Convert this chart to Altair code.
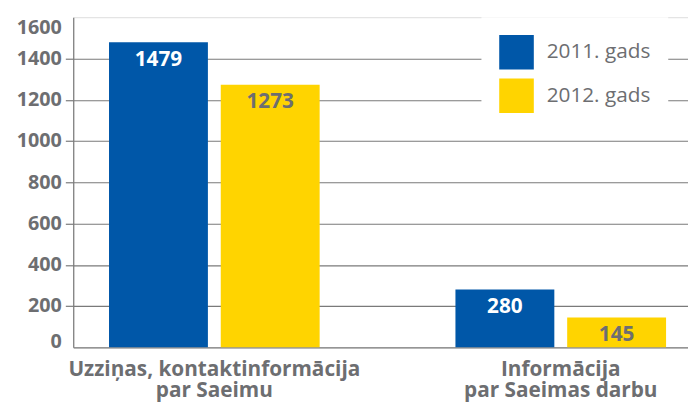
import altair as alt
import pandas as pd

categories = ["Uzziņas, kontaktinformācija\npar Saeimu", "Informācija\npar Saeimas darbu"]
years = ["2011. gads", "2012. gads"]
values_2011 = [1479, 280]
values_2012 = [1273, 145]
y_ticks = [0, 200, 400, 600, 800, 1000, 1200, 1400, 1600]

rows = []
for c, v1, v2 in zip(categories, values_2011, values_2012):
    rows.append({"category": c, "year": years[0], "value": v1})
    rows.append({"category": c, "year": years[1], "value": v2})
df = pd.DataFrame(rows)

BLUE = "#0057A8"
YELLOW = "#FFD400"
GRAY = "#6D6E71"
LINE = "#7A7A7A"
FONT = "Open Sans"

x_enc = alt.X(
    "category:N",
    sort=categories,
    title=None,
    scale=alt.Scale(paddingInner=0.392, paddingOuter=0.0833, align=0.62),
    axis=alt.Axis(
        labelExpr="split(datum.label, '\\n')",
        labelAngle=0,
        labelFont=FONT,
        labelFontSize=21,
        labelFontWeight="bold",
        labelColor=GRAY,
        labelLineHeight=22,
        labelPadding=11,
        ticks=False,
        domainColor=LINE,
        domainWidth=1.2,
        labelLimit=400,
    ),
)
xoff = alt.XOffset("year:N", sort=years, scale=alt.Scale(paddingInner=0.115, paddingOuter=0))
y_enc = alt.Y(
    "value:Q",
    title=None,
    scale=alt.Scale(domain=[0, 1600], nice=False),
    axis=alt.Axis(
        values=y_ticks,
        format="d",
        labelFont=FONT,
        labelFontSize=20,
        labelFontWeight="bold",
        labelColor=GRAY,
        labelPadding=4,
        labelBaseline={
            "condition": [
                {"test": "datum.value == 1600", "value": "top"},
                {"test": "datum.value == 0", "value": "alphabetic"},
            ],
            "value": "middle",
        },
        tickSize=8,
        tickColor=LINE,
        tickWidth=1.2,
        tickOpacity={"condition": {"test": "datum.value == 1600 || datum.value == 0", "value": 0}, "value": 1},
        domainColor=LINE,
        domainWidth=1.2,
        gridColor=LINE,
        gridWidth=1.2,
        gridOpacity={"condition": {"test": "datum.value == 1600 || datum.value == 0", "value": 0}, "value": 1},
    ),
)

bars = alt.Chart(df).mark_bar().encode(
    x=x_enc,
    xOffset=xoff,
    y=y_enc,
    color=alt.Color(
        "year:N",
        sort=years,
        title=None,
        scale=alt.Scale(domain=years, range=[BLUE, YELLOW]),
        legend=alt.Legend(
            orient="none",
            legendX=413,
            legendY=0,
            symbolType="square",
            symbolSize=1225,
            symbolStrokeWidth=0,
            symbolOpacity=1,
            labelFont=FONT,
            labelFontSize=21,
            labelColor=GRAY,
            labelOffset=13,
            rowPadding=9,
            padding=18,
            fillColor="white",
        ),
    ),
)

labels = alt.Chart(df).mark_text(
    baseline="top", dy=7, font=FONT, fontSize=21, fontWeight="bold"
).encode(
    x=alt.X("category:N", sort=categories),
    xOffset=xoff,
    y=alt.Y("value:Q"),
    text=alt.Text("value:Q"),
    color=alt.condition(alt.datum.year == years[0], alt.value("white"), alt.value(GRAY)),
)

chart = (
    alt.layer(bars, labels)
    .properties(
        width=622,
        height=334,
        autosize=alt.AutoSizeParams(type="none"),
        padding={"left": 66, "top": 7, "right": 0, "bottom": 54},
    )
    .configure_view(stroke=None)
    .configure(background="white")
)

chart.save("out.html", embed_options={"renderer": "svg", "actions": False})
